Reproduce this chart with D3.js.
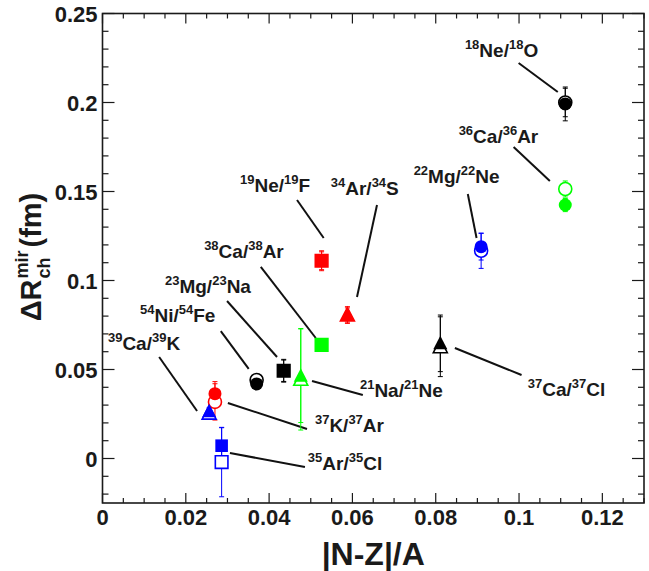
<!DOCTYPE html>
<html>
<head>
<meta charset="utf-8">
<script src="https://cdn.jsdelivr.net/npm/d3@7"></script>
<style>
body { margin: 0; background: #fff; }
text { font-family: "Liberation Sans", Arial, Helvetica, sans-serif; font-weight: bold; fill: #1a1a1a; }
</style>
</head>
<body>
<div id="chart"></div>
<script>
// mirror pairs, |N-Z|/A and measured Delta R (filled = one set, open = other)
const pairs   = ["18Ne/18O", "36Ca/36Ar", "22Mg/22Ne", "19Ne/19F", "34Ar/34S", "38Ca/38Ar", "21Na/21Ne",
                 "23Mg/23Na", "54Ni/54Fe", "39Ca/39K", "37K/37Ar", "35Ar/35Cl", "37Ca/37Cl"]
const asym    = [0.1111, 0.1111, 0.0909, 0.0526, 0.0588, 0.0526, 0.0476, 0.0435, 0.0370, 0.0256, 0.0270, 0.0286, 0.0811]
const yFilled = [0.1992, 0.1424, 0.1190, 0.1111, 0.0806, 0.0638, 0.0465, 0.0493, 0.0419, 0.0265, 0.0364, 0.0072, 0.0647]
const eFilled = [0.0095, 0.0037, 0.0075, 0.0056, 0.0047, 0.0020, 0.0263, 0.0064, 0.0020, 0.0020, 0.0068, 0.0101, 0.0159]
const yOpen   = [0.2000, 0.1514, 0.1167, 0.1111, 0.0806, 0.0638, 0.0445, 0.0493, 0.0441, 0.0255, 0.0318, -0.0020, 0.0628]
const eOpen   = [0.0080, 0.0045, 0.0099, 0.0050, 0.0040, 0.0020, 0.0285, 0.0060, 0.0020, 0.0020, 0.0102, 0.0195, 0.0168]
const shapes  = ["circle", "circle", "circle", "square", "triangle", "square", "triangle",
                 "square", "circle", "triangle", "circle", "square", "triangle"]
const colors  = ["#000000", "#00ff00", "#0000ff", "#ff0000", "#ff0000", "#00ff00", "#00ff00",
                 "#000000", "#000000", "#0000ff", "#ff0000", "#0000ff", "#000000"]

// label anchor (text start, baseline) and leader line, in data units
const labelX  = [0.0870, 0.0855, 0.0747, 0.0330, 0.0548, 0.0244, 0.0618, 0.0150, 0.0090, 0.0013, 0.0510, 0.0493, 0.1021]
const labelY  = [0.2256, 0.1772, 0.1548, 0.1497, 0.1480, 0.1126, 0.0346, 0.0930, 0.0767, 0.0610, 0.0149, -0.0065, 0.0351]
const leaders = [
  [0.0999, 0.2222, 0.1093, 0.2059],
  [0.0987, 0.1750, 0.1074, 0.1559],
  [0.0877, 0.1486, 0.0898, 0.1239],
  [0.0467, 0.1452, 0.0531, 0.1239],
  [0.0659, 0.1424, 0.0611, 0.0907],
  [0.0380, 0.1076, 0.0512, 0.0677],
  [0.0503, 0.0435, 0.0625, 0.0357],
  [0.0299, 0.0885, 0.0419, 0.0570],
  [0.0284, 0.0716, 0.0351, 0.0503],
  [0.0136, 0.0570, 0.0227, 0.0267],
  [0.0301, 0.0312, 0.0491, 0.0166],
  [0.0306, 0.0031, 0.0486, -0.0048],
  [0.0846, 0.0621, 0.1006, 0.0469]
]

const xTicks = [0, 0.02, 0.04, 0.06, 0.08, 0.1, 0.12]
const yTicks = [0, 0.05, 0.1, 0.15, 0.2, 0.25]

const width = 649, height = 571
const margin = {left: 102.5, right: 5, top: 13.5, bottom: 68}

const x = d3.scaleLinear().domain([0, 0.13]).range([margin.left, width - margin.right])
const y = d3.scaleLinear().domain([-0.025, 0.25]).range([height - margin.bottom, margin.top])

const svg = d3.select('#chart').append('svg')
    .attr('width', width)
    .attr('height', height)

const x0 = x.range()[0], x1 = x.range()[1], y0 = y.range()[0], y1 = y.range()[1]

// frame + ticks on all four sides (pointing inwards)
const axes = svg.append('g').attr('stroke', '#1a1a1a').attr('fill', 'none')
axes.append('rect')
    .attr('x', x0).attr('y', y1)
    .attr('width', x1 - x0).attr('height', y0 - y1)
    .attr('stroke-width', 1.6)

const xMinor = d3.range(0, 0.1301, 0.005)
xMinor.forEach((v, i) => {
    const len = i % 4 === 0 ? 10 : 5
    axes.append('line').attr('x1', x(v)).attr('x2', x(v)).attr('y1', y0).attr('y2', y0 - len).attr('stroke-width', 1.2)
    axes.append('line').attr('x1', x(v)).attr('x2', x(v)).attr('y1', y1).attr('y2', y1 + len).attr('stroke-width', 1.2)
})
const yMinor = d3.range(-0.02, 0.2501, 0.01)
yMinor.forEach(v => {
    const major = Math.abs(Math.round(v * 100) % 5) === 0
    const len = major ? 12 : 6
    axes.append('line').attr('y1', y(v)).attr('y2', y(v)).attr('x1', x0).attr('x2', x0 + len).attr('stroke-width', 1.2)
    axes.append('line').attr('y1', y(v)).attr('y2', y(v)).attr('x1', x1).attr('x2', x1 - len).attr('stroke-width', 1.2)
})

svg.append('g').selectAll('text')
    .data(xTicks)
    .join('text')
    .attr('x', d => x(d))
    .attr('y', y0 + 22)
    .attr('text-anchor', 'middle')
    .style('font-size', '22px')
    .text(d => d)

svg.append('g').selectAll('text')
    .data(yTicks)
    .join('text')
    .attr('x', x0 - 5)
    .attr('y', d => y(d) + 8)
    .attr('text-anchor', 'end')
    .style('font-size', '22px')
    .text(d => d)

// axis titles
svg.append('text')
    .attr('x', (x0 + x1) / 2)
    .attr('y', 565)
    .attr('text-anchor', 'middle')
    .style('font-size', '32px')
    .text('|N-Z|/A')

const yTitle = svg.append('g').attr('transform', 'translate(41, 257) rotate(-90)')
const tDelta = yTitle.append('text').style('font-size', '29px').text('ΔR')
const wDelta = tDelta.node().getComputedTextLength()
const tSup = yTitle.append('text').attr('x', wDelta + 1).attr('y', -13).style('font-size', '18px').text('mir')
yTitle.append('text').attr('x', wDelta + 1).attr('y', 9).style('font-size', '18px').text('ch')
const wSup = tSup.node().getComputedTextLength()
const tUnit = yTitle.append('text').attr('x', wDelta + wSup + 4).style('font-size', '29px').text(' (fm)')
const total = wDelta + wSup + 4 + tUnit.node().getComputedTextLength()
yTitle.selectAll('text').attr('transform', `translate(${-total / 2}, 0)`)

// leader lines
svg.append('g').selectAll('line')
    .data(leaders)
    .join('line')
    .attr('x1', d => x(d[0])).attr('y1', d => y(d[1]))
    .attr('x2', d => x(d[2])).attr('y2', d => y(d[3]))
    .attr('stroke', '#111')
    .attr('stroke-width', 2)

// labels with superscript mass numbers
const labels = svg.append('g')
pairs.forEach((p, i) => {
    const t = labels.append('text')
        .attr('x', x(labelX[i]))
        .attr('y', y(labelY[i]))
        .style('font-size', '19px')
    const parts = [...p.matchAll(/(\d+)([A-Za-z]+\/?)/g)]
    parts.forEach(m => {
        t.append('tspan').attr('dy', -8).style('font-size', '13px').text(m[1])
        t.append('tspan').attr('dy', 8).text(m[2])
    })
})

// data points
const points = pairs.map((p, i) => ({i, x: asym[i], shape: shapes[i], color: colors[i]}))

function markerPath(shape) {
    if (shape === 'circle') return d3.symbol(d3.symbolCircle, Math.PI * 6.5 * 6.5)()
    if (shape === 'square') return 'M-6.3,-6.3H6.3V6.3H-6.3Z'
    return 'M0,-7.5L7,6L-7,6Z'
}

const errBars = svg.append('g')
function drawError(xv, yv, ev, color) {
    errBars.append('line')
        .attr('x1', x(xv)).attr('x2', x(xv))
        .attr('y1', y(yv - ev)).attr('y2', y(yv + ev))
        .attr('stroke', color).attr('stroke-width', 1)
    ;[yv - ev, yv + ev].forEach(v => {
        errBars.append('line')
            .attr('x1', x(xv) - 2.5).attr('x2', x(xv) + 2.5)
            .attr('y1', y(v)).attr('y2', y(v))
            .attr('stroke', color).attr('stroke-width', 1)
    })
}
points.forEach(d => {
    drawError(d.x, yOpen[d.i], eOpen[d.i], d.color)
    drawError(d.x, yFilled[d.i], eFilled[d.i], d.color)
})

svg.append('g').selectAll('path')
    .data(points)
    .join('path')
    .attr('d', d => markerPath(d.shape))
    .attr('transform', d => `translate(${x(d.x)}, ${y(yOpen[d.i])})`)
    .attr('fill', '#fff')
    .attr('stroke', d => d.color)
    .attr('stroke-width', 1.6)

svg.append('g').selectAll('path')
    .data(points)
    .join('path')
    .attr('d', d => markerPath(d.shape))
    .attr('transform', d => `translate(${x(d.x)}, ${y(yFilled[d.i])})`)
    .attr('fill', d => d.color)
</script>
</body>
</html>
